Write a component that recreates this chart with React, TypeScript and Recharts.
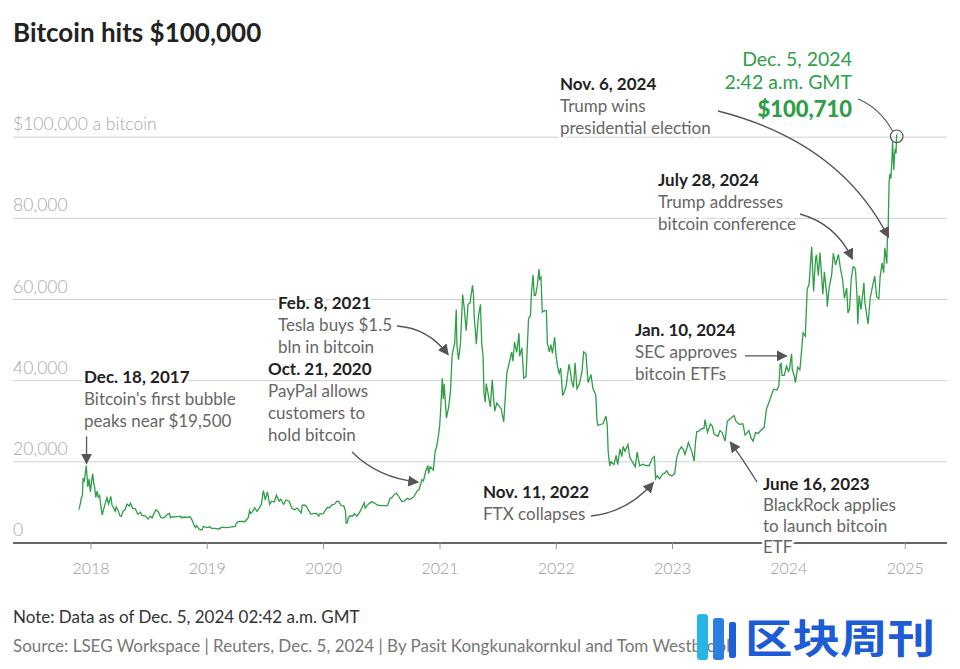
import React from 'react';
import { LineChart, Line, XAxis, YAxis, ReferenceLine } from 'recharts';

// ---------- data ----------
const dates: string[] = [
  '2017-11-24','2017-11-29','2017-12-01','2017-12-05','2017-12-07','2017-12-10','2017-12-13','2017-12-17','2017-12-22','2017-12-26','2017-12-30',
  '2018-01-06','2018-01-10','2018-01-12','2018-01-16','2018-01-20','2018-01-24','2018-01-28','2018-02-01','2018-02-05','2018-02-09','2018-02-14','2018-02-20','2018-02-25',
  '2018-03-04','2018-03-08','2018-03-12','2018-03-18','2018-03-21','2018-03-28','2018-04-01','2018-04-06','2018-04-12','2018-04-18','2018-04-24','2018-05-01','2018-05-05',
  '2018-05-12','2018-05-20','2018-05-28','2018-06-05','2018-06-10','2018-06-20','2018-06-29','2018-07-06','2018-07-12','2018-07-18','2018-07-24','2018-08-01','2018-08-08',
  '2018-08-14','2018-08-20','2018-08-28','2018-09-04','2018-09-08','2018-09-14','2018-09-20','2018-09-25','2018-10-03','2018-10-10','2018-10-11','2018-10-20','2018-10-31',
  '2018-11-07','2018-11-14','2018-11-20','2018-11-25','2018-11-28','2018-12-07','2018-12-15','2018-12-20','2018-12-24','2018-12-30',
  '2019-01-09','2019-01-15','2019-01-25','2019-02-07','2019-02-08','2019-02-20','2019-02-28','2019-03-15','2019-03-30','2019-04-02','2019-04-10','2019-04-20','2019-04-30',
  '2019-05-10','2019-05-14','2019-05-17','2019-05-22','2019-05-30','2019-06-06','2019-06-14','2019-06-20','2019-06-26','2019-06-28','2019-07-02','2019-07-09','2019-07-16',
  '2019-07-22','2019-07-31','2019-08-06','2019-08-15','2019-08-20','2019-08-29','2019-09-05','2019-09-15','2019-09-24','2019-10-03','2019-10-10','2019-10-23','2019-10-26',
  '2019-11-05','2019-11-10','2019-11-22','2019-11-25','2019-12-03','2019-12-10','2019-12-17','2019-12-20','2019-12-31',
  '2020-01-07','2020-01-14','2020-01-20','2020-01-28','2020-02-05','2020-02-12','2020-02-18','2020-02-25','2020-03-05','2020-03-10','2020-03-12','2020-03-16','2020-03-19',
  '2020-03-25','2020-04-01','2020-04-07','2020-04-15','2020-04-23','2020-04-30','2020-05-08','2020-05-11','2020-05-20','2020-06-01','2020-06-10','2020-06-20','2020-07-01',
  '2020-07-10','2020-07-20','2020-07-28','2020-08-02','2020-08-10','2020-08-17','2020-08-25','2020-09-03','2020-09-10','2020-09-20','2020-09-28','2020-10-10','2020-10-21',
  '2020-10-28','2020-11-05','2020-11-10','2020-11-17','2020-11-24','2020-11-26','2020-12-01','2020-12-11','2020-12-17','2020-12-21','2020-12-27','2020-12-31',
  '2021-01-03','2021-01-08','2021-01-11','2021-01-14','2021-01-21','2021-01-25','2021-01-28','2021-02-03','2021-02-08','2021-02-12','2021-02-16','2021-02-21','2021-02-23',
  '2021-02-28','2021-03-06','2021-03-13','2021-03-18','2021-03-24','2021-03-30','2021-04-05','2021-04-13','2021-04-16','2021-04-18','2021-04-25','2021-04-29','2021-05-03',
  '2021-05-08','2021-05-12','2021-05-16','2021-05-19','2021-05-23','2021-05-26','2021-06-01','2021-06-08','2021-06-14','2021-06-18','2021-06-22','2021-06-28','2021-07-05',
  '2021-07-12','2021-07-20','2021-07-26','2021-07-30','2021-08-07','2021-08-14','2021-08-18','2021-08-23','2021-08-30','2021-09-06','2021-09-08','2021-09-15','2021-09-21',
  '2021-09-28','2021-10-06','2021-10-12','2021-10-15','2021-10-20','2021-10-24','2021-10-28','2021-11-02','2021-11-08','2021-11-10','2021-11-14','2021-11-18','2021-11-24',
  '2021-11-28','2021-12-01','2021-12-04','2021-12-10','2021-12-15','2021-12-20','2021-12-27','2021-12-31',
  '2022-01-05','2022-01-10','2022-01-15','2022-01-21','2022-01-24','2022-02-01','2022-02-10','2022-02-14','2022-02-18','2022-02-24','2022-03-01','2022-03-07','2022-03-15',
  '2022-03-23','2022-03-28','2022-04-04','2022-04-11','2022-04-20','2022-04-26','2022-05-05','2022-05-09','2022-05-12','2022-05-20','2022-05-28','2022-06-06','2022-06-10',
  '2022-06-13','2022-06-18','2022-06-22','2022-07-01','2022-07-08','2022-07-13','2022-07-20','2022-07-26','2022-07-30','2022-08-05','2022-08-14','2022-08-20','2022-08-28',
  '2022-09-06','2022-09-12','2022-09-20','2022-09-30','2022-10-10','2022-10-20','2022-10-29','2022-11-05','2022-11-09','2022-11-14','2022-11-21','2022-12-01','2022-12-06',
  '2022-12-14','2022-12-20','2022-12-30',
  '2023-01-08','2023-01-14','2023-01-21','2023-01-29','2023-02-05','2023-02-09','2023-02-16','2023-02-20','2023-03-03','2023-03-10','2023-03-14','2023-03-18','2023-03-24',
  '2023-03-30','2023-04-10','2023-04-13','2023-04-21','2023-04-30','2023-05-06','2023-05-12','2023-05-24','2023-05-30','2023-06-06','2023-06-15','2023-06-22','2023-07-01',
  '2023-07-13','2023-07-20','2023-07-31','2023-08-10','2023-08-17','2023-08-29','2023-09-05','2023-09-11','2023-09-19','2023-09-28','2023-10-02','2023-10-16','2023-10-23',
  '2023-10-31','2023-11-09','2023-11-15','2023-11-25','2023-12-01','2023-12-05','2023-12-08','2023-12-11','2023-12-18','2023-12-25','2023-12-31',
  '2024-01-03','2024-01-10','2024-01-12','2024-01-18','2024-01-22','2024-01-29','2024-02-05','2024-02-08','2024-02-15','2024-02-22','2024-02-28','2024-03-05','2024-03-13',
  '2024-03-19','2024-03-25','2024-03-28','2024-04-03','2024-04-08','2024-04-12','2024-04-17','2024-04-22','2024-04-30','2024-05-01','2024-05-07','2024-05-15','2024-05-20',
  '2024-05-27','2024-06-05','2024-06-12','2024-06-18','2024-06-24','2024-07-01','2024-07-05','2024-07-10','2024-07-15','2024-07-21','2024-07-26','2024-07-29','2024-08-02',
  '2024-08-05','2024-08-09','2024-08-15','2024-08-24','2024-08-27','2024-09-06','2024-09-13','2024-09-20','2024-09-27','2024-10-03','2024-10-10','2024-10-14','2024-10-20',
  '2024-10-25','2024-10-29','2024-11-04','2024-11-06','2024-11-08','2024-11-11','2024-11-13','2024-11-15','2024-11-17','2024-11-20','2024-11-22','2024-11-26','2024-11-28',
  '2024-12-01','2024-12-03','2024-12-04','2024-12-05',
];

const prices: number[] = [
  8200,9900,10900,11700,16000,15000,16400,19100,13800,15800,12600,
  17100,14500,13900,11200,12800,11300,11700,9100,6900,8100,9500,11200,9600,
  11500,9300,8800,7800,8900,7900,6800,6600,7900,8200,9600,9100,9800,
  8500,8400,7100,7600,6800,6700,5900,6600,6200,7300,8200,7600,6300,
  6200,6300,7000,7300,6200,6500,6400,6500,6500,6600,6200,6400,6300,
  6500,5700,4500,3800,4300,3400,3200,4100,4000,3800,
  4000,3600,3600,3400,3600,3900,3800,3900,4100,4900,5300,5300,5300,
  6300,8000,7300,7600,8700,7800,8700,9500,12900,12400,10600,12600,9500,
  10300,10100,11800,10300,10800,9500,10600,10300,8500,8200,8600,7400,9300,
  9300,8800,7100,7100,7300,7300,6600,7200,7200,
  8100,8800,8700,9400,9600,10300,10200,9300,9100,7900,4900,5000,6200,
  6700,6600,7200,6600,7500,8600,9900,8600,9500,10200,9800,9300,9200,
  9200,9200,11000,11100,11900,12300,11400,10200,10300,11000,10700,11300,12800,
  13300,15600,15300,17700,19100,17100,18800,18000,22800,23500,26500,29000,
  32800,40600,35500,39200,30800,32300,33400,37600,46400,47900,49200,57500,48800,
  45200,48900,61200,57900,52300,58800,59100,63500,61300,56200,49000,53600,56600,
  58800,49000,46400,37000,34700,39300,36700,33500,40200,35800,32500,34500,33800,
  33100,29800,37300,42000,44600,47100,44800,49500,47000,51700,46000,48100,40600,
  41000,55300,56000,61600,66000,61000,61000,63200,67500,65000,65500,56900,57200,
  57300,57200,49300,47100,48900,46700,50700,46300,
  43500,41800,43100,36500,36700,38700,44000,42500,40000,38300,44400,38000,39300,
  42400,47100,46600,39500,41500,38100,36500,30100,29000,29200,29400,31300,29100,
  22500,19000,20000,19300,21600,19300,23200,21300,23800,22600,24300,21100,20000,
  18800,22400,19000,19400,19100,19100,20800,21300,15900,16600,15800,17000,17100,
  17800,16900,16500,
  17100,20900,22700,23700,22900,21800,23600,24800,22400,20200,24700,27400,27500,
  28000,28300,30400,27300,29300,28800,26800,26300,27700,27200,25100,30000,30600,
  31400,29900,29200,29400,26600,27700,25800,25100,27200,27000,27500,28500,33000,
  34700,36700,37900,37700,38700,44000,44200,41300,41300,43600,42300,
  42800,46600,42800,41300,39500,43300,42700,45300,51800,51000,62500,63800,73000,
  62000,69900,71000,65900,71600,67200,61300,66800,60600,58200,62900,66200,71400,
  68500,71100,67300,65000,60300,62800,56700,57700,64800,68100,67900,66800,61400,
  53900,61000,57500,64100,59400,53900,60500,63200,65800,60700,60200,65600,69000,
  66600,72700,68800,75800,76600,88700,90500,91000,89800,94300,98900,91900,95600,
  97200,96000,98700,100710,
];

const yearTicks: string[] = ['2018-01-01','2019-01-01','2020-01-01','2021-01-01','2022-01-01','2023-01-01','2024-01-01','2025-01-01'];
const yearLabels: string[] = ['2018','2019','2020','2021','2022','2023','2024','2025'];
const gridValues: number[] = [0, 20000, 40000, 60000, 80000, 100000];
const gridLabels: string[] = ['0', '20,000', '40,000', '60,000', '80,000', '$100,000 a bitcoin'];

// ---------- helpers / layout ----------
const toT = (s: string) => {
  const [y, m, d] = s.split('-').map(Number);
  return Date.UTC(y, m - 1, d);
};
const data = dates.map((d, i) => ({ t: toT(d), price: prices[i] }));
const tickTs = yearTicks.map(toT);

const W = 960, H = 669;
const M = { top: 56, right: 13, bottom: 96, left: 13 };
const XAXIS_H = 30;
const X0 = toT('2017-05-01');
const X1 = toT('2025-05-12');
const Y0 = 0, Y1 = 120000;
const plotW = W - M.left - M.right;
const plotH = H - M.top - M.bottom - XAXIS_H;
const px = (date: string) => M.left + ((toT(date) - X0) / (X1 - X0)) * plotW;
const py = (v: number) => M.top + (1 - (v - Y0) / (Y1 - Y0)) * plotH;

const FONT = 'Lato, "Noto Sans", sans-serif';
const GREEN = '#2e9e47';
const ARROW = '#555';

const GridLabel = (props: any) => {
  const { viewBox, text } = props;
  if (!viewBox) return null;
  return (
    <text x={viewBox.x} y={viewBox.y - 7} fill="#a8a8a8" fontSize={17.5} fontFamily={FONT} fontWeight={300}>
      {text}
    </text>
  );
};

const halo = { paintOrder: 'stroke' as const, stroke: '#fff', strokeWidth: 5, strokeLinejoin: 'round' as const };

type Note = { x: number; y: number; date: string; lines: string[]; lh?: number };
const Annot = ({ x, y, date, lines, lh = 22 }: Note) => (
  <g fontFamily={FONT}>
    <text x={x} y={y} fontSize={17} fontWeight={700} fill="#222" style={halo}>{date}</text>
    {lines.map((l, i) => (
      <text key={i} x={x} y={y + lh * (i + 1)} fontSize={17} fontWeight={400} fill="#666" style={halo}>{l}</text>
    ))}
  </g>
);

export default function App() {
  // event anchors derived from data coordinates
  const dec17 = { x: px('2017-12-18'), y: py(19100) };
  const oct20 = { x: px('2020-10-21'), y: py(12800) };
  const feb21 = { x: px('2021-02-08'), y: py(46400) };
  const nov22 = { x: px('2022-11-11'), y: py(15900) };
  const jun23 = { x: px('2023-06-16'), y: py(25100) };
  const jan24 = { x: px('2024-01-10'), y: py(46600) };
  const jul24 = { x: px('2024-07-28'), y: py(66800) };
  const nov24 = { x: px('2024-11-06'), y: py(75800) };
  const dec24 = { x: px('2024-12-05'), y: py(100710) };

  return (
    <div style={{ position: 'relative', width: W, height: H, background: '#fff', overflow: 'hidden' }}>
      <style>{`body{margin:0;background:#fff}`}</style>
      <LineChart width={W} height={H} data={data} margin={M}>
        <XAxis
          dataKey="t"
          type="number"
          scale="time"
          domain={[X0, X1]}
          ticks={tickTs}
          tickFormatter={(t: number) => yearLabels[tickTs.indexOf(t)]}
          height={XAXIS_H}
          axisLine={false}
          tickLine={{ stroke: '#999' }}
          tickSize={6}
          tickMargin={14}
          tick={{ fill: '#9a9a9a', fontSize: 16, fontFamily: FONT, fontWeight: 300 }}
          allowDataOverflow
        />
        <YAxis hide domain={[Y0, Y1]} type="number" />
        {gridValues.map((v, i) => (
          <ReferenceLine
            key={v}
            y={v}
            stroke={v === 0 ? '#666' : '#d0d0d0'}
            strokeWidth={v === 0 ? 2 : 1}
            label={<GridLabel text={gridLabels[i]} />}
          />
        ))}
        <Line
          type="linear"
          dataKey="price"
          stroke={GREEN}
          strokeWidth={1.3}
          dot={false}
          isAnimationActive={false}
        />
      </LineChart>

      <svg width={W} height={H} style={{ position: 'absolute', left: 0, top: 0, pointerEvents: 'none' }}>
        <defs>
          <marker id="ah" viewBox="0 0 10 10" refX="9" refY="5" markerWidth="11" markerHeight="11" markerUnits="userSpaceOnUse" orient="auto">
            <path d="M0,0 L10,5 L0,10 z" fill={ARROW} />
          </marker>
        </defs>

        {/* title */}
        <text x={13} y={42} fontFamily={FONT} fontSize={26} fontWeight={700} fill="#222">Bitcoin hits $100,000</text>

        {/* annotations */}
        <Annot x={84} y={383} date="Dec. 18, 2017" lines={["Bitcoin's first bubble", 'peaks near $19,500']} />
        <path d={`M${dec17.x},${dec17.y - 29} L${dec17.x},${dec17.y - 2}`} stroke={ARROW} strokeWidth={1.3} fill="none" markerEnd="url(#ah)" />

        <Annot x={278} y={309} date="Feb. 8, 2021" lines={['Tesla buys $1.5', 'bln in bitcoin']} />
        <path d={`M397,326 Q428,328 ${feb21.x - 4},${feb21.y}`} stroke={ARROW} strokeWidth={1.3} fill="none" markerEnd="url(#ah)" />

        <Annot x={268} y={375} date="Oct. 21, 2020" lines={['PayPal allows', 'customers to', 'hold bitcoin']} />
        <path d={`M352,452 Q378,478 ${oct20.x + 1},${oct20.y - 9}`} stroke={ARROW} strokeWidth={1.3} fill="none" markerEnd="url(#ah)" />

        <Annot x={483} y={498} date="Nov. 11, 2022" lines={['FTX collapses']} />
        <path d={`M591,516 Q628,512 ${nov22.x - 3},${nov22.y + 4}`} stroke={ARROW} strokeWidth={1.3} fill="none" markerEnd="url(#ah)" />

        <Annot x={763} y={490} lh={21} date="June 16, 2023" lines={['BlackRock applies', 'to launch bitcoin', 'ETF']} />
        <path d={`M757,482 Q742,458 ${jun23.x + 5},${jun23.y + 1}`} stroke={ARROW} strokeWidth={1.3} fill="none" markerEnd="url(#ah)" />

        <Annot x={635} y={336} date="Jan. 10, 2024" lines={['SEC approves', 'bitcoin ETFs']} />
        <path d={`M745,${jan24.y + 2} L${jan24.x - 5},${jan24.y + 2}`} stroke={ARROW} strokeWidth={1.3} fill="none" markerEnd="url(#ah)" />

        <Annot x={658} y={186} date="July 28, 2024" lines={['Trump addresses', 'bitcoin conference']} />
        <path d={`M800,214 Q836,224 ${jul24.x - 3},${jul24.y - 13}`} stroke={ARROW} strokeWidth={1.3} fill="none" markerEnd="url(#ah)" />

        <Annot x={560} y={90} date="Nov. 6, 2024" lines={['Trump wins', 'presidential election']} />
        <path d={`M718,111 Q840,142 ${nov24.x + 1},${nov24.y + 2}`} stroke={ARROW} strokeWidth={1.3} fill="none" markerEnd="url(#ah)" />

        {/* latest value */}
        <g fontFamily={FONT} textAnchor="end">
          <text x={852} y={66} fontSize={19.5} fontWeight={400} fill={GREEN}>Dec. 5, 2024</text>
          <text x={852} y={89} fontSize={19.5} fontWeight={400} fill={GREEN}>2:42 a.m. GMT</text>
          <text x={852} y={117} fontSize={22} fontWeight={900} fill={GREEN}>$100,710</text>
        </g>
        <path d={`M858,99 Q880,108 ${dec24.x - 4},${dec24.y - 3}`} stroke={ARROW} strokeWidth={1.1} fill="none" />
        <circle cx={dec24.x} cy={dec24.y + 2} r={6.3} fill="none" stroke={ARROW} strokeWidth={1.2} />

        {/* footer */}
        <text x={13} y={623} fontFamily={FONT} fontSize={17} fill="#333">Note: Data as of Dec. 5, 2024 02:42 a.m. GMT</text>
        <text x={13} y={652} fontFamily={FONT} fontSize={17} fill="#777">Source: LSEG Workspace | Reuters, Dec. 5, 2024 | By Pasit Kongkunakornkul and Tom Westbrook</text>

        {/* watermark */}
        <g>
          <rect x={697} y={614} width={11} height={46} rx={3} fill="#27b4e6" />
          <rect x={713} y={618} width={11} height={42} rx={3} fill="#2a7fe0" />
          <rect x={729} y={622} width={7} height={36} rx={2} fill="#1f5fd8" />
          <text x={745} y={653} fontFamily='"Noto Sans CJK SC", sans-serif' fontSize={40} fontWeight={700} fill="#1e5bd6" textLength={190} lengthAdjust="spacingAndGlyphs">区块周刊</text>
        </g>
      </svg>
    </div>
  );
}
